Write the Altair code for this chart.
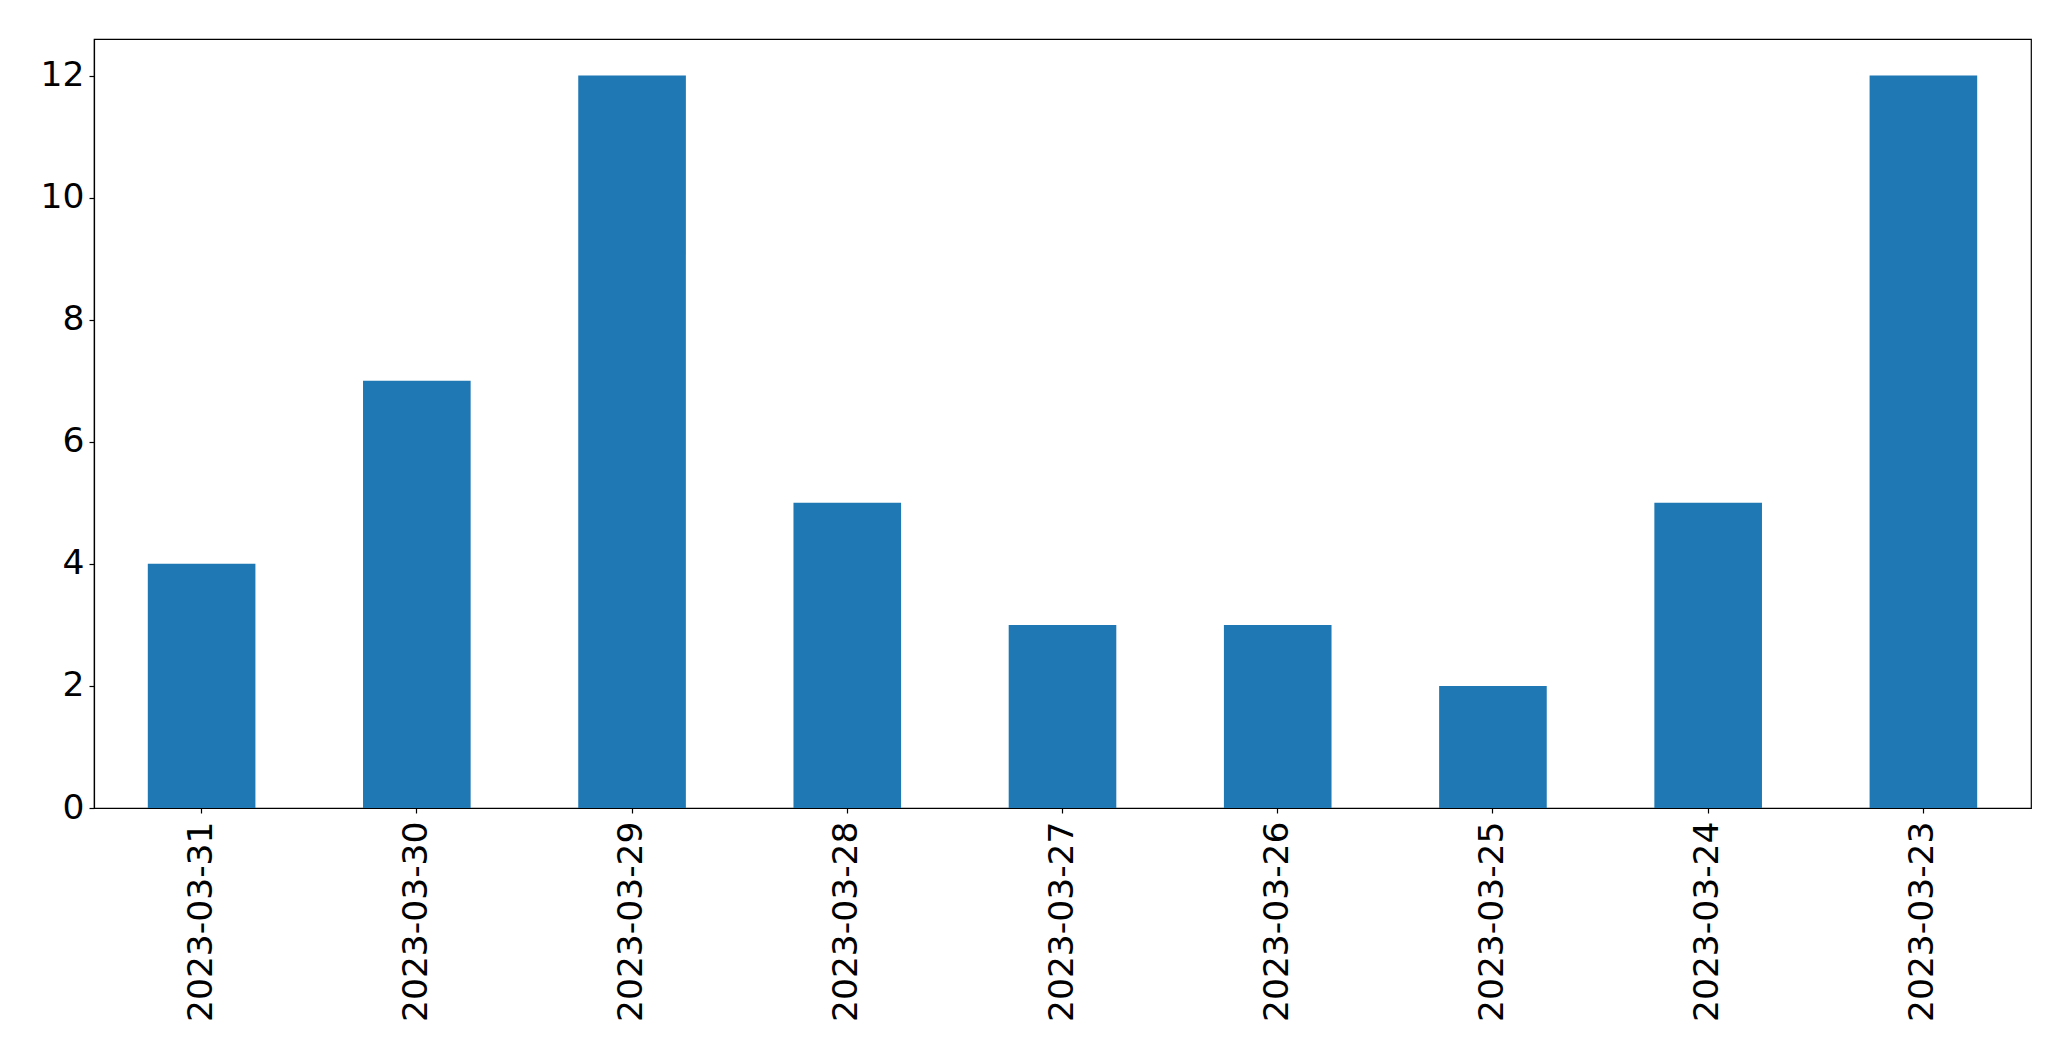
import altair as alt
import pandas as pd

dates = ["2023-03-31", "2023-03-30", "2023-03-29", "2023-03-28", "2023-03-27",
         "2023-03-26", "2023-03-25", "2023-03-24", "2023-03-23"]
counts = [4, 7, 12, 5, 3, 3, 2, 5, 12]
y_ticks = [0, 2, 4, 6, 8, 10, 12]

df = pd.DataFrame({"date": dates, "count": counts})

chart = alt.Chart(df).mark_bar(color="#1f77b4").encode(
    x=alt.X("date:N", sort=dates, title=None,
            scale=alt.Scale(paddingInner=0.5, paddingOuter=0.25),
            axis=alt.Axis(labelAngle=-90, labelFontSize=34.5, labelFont="DejaVu Sans",
                          labelColor="black", tickColor="black", domainColor="black",
                          tickSize=5, tickWidth=1.2, labelPadding=8, domain=True,
                          domainWidth=1.2, labelLimit=400)),
    y=alt.Y("count:Q", title=None,
            scale=alt.Scale(domain=[0, 12.6], nice=False, zero=True),
            axis=alt.Axis(values=y_ticks, labelFontSize=34.5, labelFont="DejaVu Sans",
                          labelColor="black", tickColor="black", domainColor="black",
                          tickSize=5, tickWidth=1.2, labelPadding=5, grid=False,
                          domain=True, domainWidth=1.2)),
).properties(
    width=1937, height=769,
    autosize=alt.AutoSizeParams(type="none"),
    padding={"left": 86, "top": 31, "right": 30, "bottom": 240},
).configure_view(
    stroke="black", strokeWidth=1.2
)

chart.save("out.html", embed_options={"renderer": "svg", "actions": False})
